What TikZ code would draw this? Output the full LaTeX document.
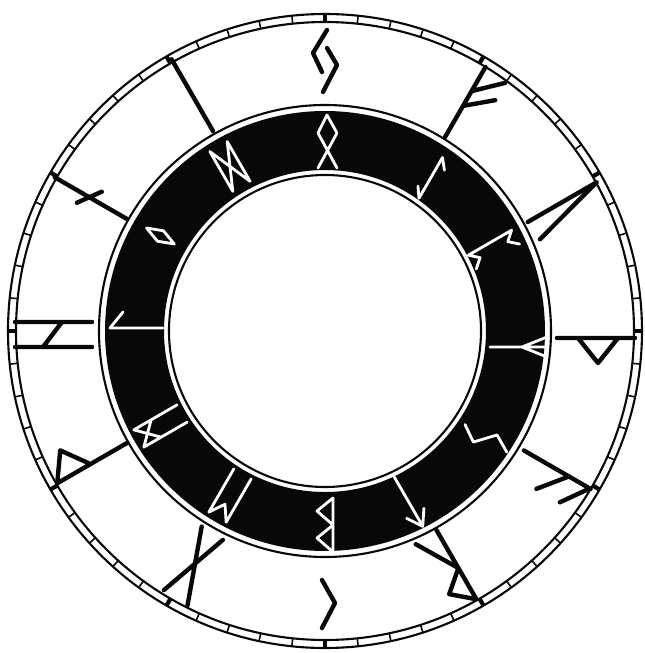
\documentclass[tikz,border=0pt]{standalone}
\usepackage{tikz}
\definecolor{ink}{RGB}{8,8,8}

\begin{document}
\begin{tikzpicture}[x=0.02cm, y=0.02cm,
  ring/.style  = {draw=ink, line width=1.2pt},
  tick/.style  = {draw=ink, line width=0.9pt},
  rune/.style  = {draw=ink, line width=2.5pt, line cap=round, line join=round},
  wrune/.style = {draw=white, line width=1.6pt, line cap=round, line join=round}
]
\useasboundingbox (-325,-322) rectangle (320,331);
\fill[white] (-325,-322) rectangle (320,331);

% outer scale
\draw[ring] (0,0) circle[radius=317];
\draw[ring] (0,0) circle[radius=309];
\foreach \a in {0,6,...,354}
  \draw[tick] (\a:309) -- (\a:317);
\foreach \a in {0,30,...,330}
  \draw[tick, line width=2.4pt] (\a:309) -- (\a:317);

% black band
\draw[ring] (0,0) circle[radius=226];
\fill[ink, even odd rule] (0,0) circle[radius=220] (0,0) circle[radius=161];
\draw[ring] (0,0) circle[radius=156];

% outer runes
\draw[rune, rotate=-30]  (7,228) -- (7,309) (7,281) -- (32,305) (7,264) -- (32,285);
\draw[rune, rotate=-60]  (7,230) -- (7,310) -- (28,232);
\draw[rune, rotate=-90]  (7,232) -- (7,310) (7,253) -- (32,273) -- (7,293);
\draw[rune, rotate=-120] (4,232) -- (4,309) (4,308) -- (31,289) (4,284) -- (31,262);
\draw[rune, rotate=-150] (3,228) -- (3,308) -- (24,290) -- (3,272) -- (28,230);
\draw[rune, rotate=-180] (3,249) -- (-10,272) -- (3,297);
\draw[rune, rotate=-210] (9,231) -- (-18,306) (-16,232) -- (10,305);
\draw[rune, rotate=-240] (2,227) -- (2,308) -- (29,289) -- (4,271);
\draw[rune, rotate=90]   (9,233) -- (9,310) (-16,233) -- (-16,310) (-16,282) -- (9,263);
\draw[rune, rotate=60]   (-2,228) -- (-2,311) (-13,279) -- (9,263);
\draw[rune, rotate=30]   (3,229) -- (3,312);
\draw[rune]              (2,301) -- (-12,278) -- (-3,259) (2,283) -- (12,266) -- (-2,239);

% inner runes
\draw[wrune]              (-7,163) -- (12,198) -- (2,216) -- (-7,198) -- (12,163);
\draw[wrune, rotate=-30]  (8,172) -- (15,162) -- (15,209) -- (23,199);
\draw[wrune, rotate=-60]  (6,212) -- (6,162) (6,212) -- (14,203) -- (22,212) (6,162) -- (14,171) -- (22,162);
\draw[wrune, rotate=-90]  (16,165) -- (16,222) (6,222) -- (16,197) -- (26,222);
\draw[wrune, rotate=-120] (11,168) -- (22,184) -- (4,201) -- (14,218);
\draw[wrune, rotate=-150] (13,161) -- (13,218) (3,203) -- (13,218) -- (23,203);
\draw[wrune, rotate=-180] (-8,167) -- (-8,221) -- (8,207) -- (-8,194) -- (8,180) -- (-8,167);
\draw[wrune, rotate=-210] (-10,165) -- (-10,215) -- (0,200) -- (10,215) -- (10,165);
\draw[wrune, rotate=-240] (-10,165) -- (-10,215) -- (10,195) (10,165) -- (10,215) -- (-10,195);
\draw[wrune, rotate=90]   (3,162) -- (3,215) -- (19,202);
\draw[wrune, rotate=60]   (0,174) -- (6,190) -- (0,206) -- (-6,190) -- cycle;
\draw[wrune, rotate=30]   (-10,167) -- (-10,213) -- (10,167) -- (10,213) -- cycle;
\end{tikzpicture}
\end{document}
